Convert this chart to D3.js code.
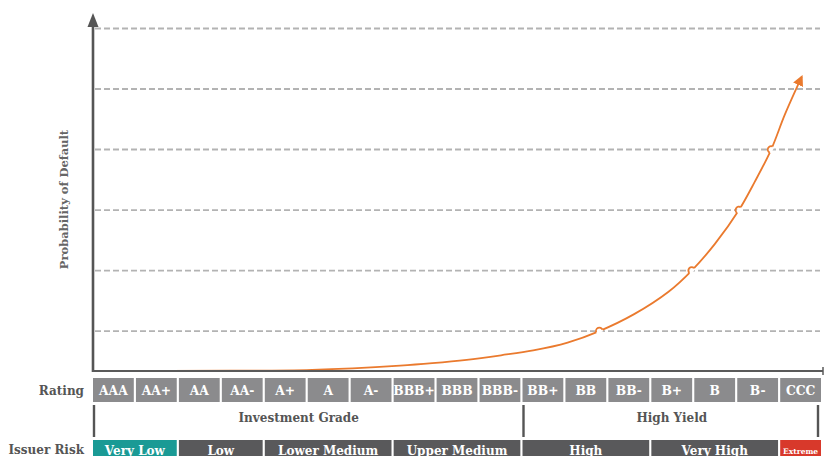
<!DOCTYPE html>
<html>
<head>
<meta charset="utf-8">
<script src="https://cdn.jsdelivr.net/npm/d3@7"></script>
<style>
  html, body { margin: 0; padding: 0; background: #fff; }
  svg { display: block; }
  text { font-family: "DejaVu Serif", serif; font-weight: bold; }
</style>
</head>
<body>
<svg id="chart" width="824" height="456"></svg>
<script>
// ---- data ----
const ratings = ["AAA","AA+","AA","AA-","A+","A","A-","BBB+","BBB","BBB-","BB+","BB","BB-","B+","B","B-","CCC"];
const gradeLabels = ["Investment Grade","High Yield"];
const gradeSpans = [10, 7];
const riskLevels = ["Very Low","Low","Lower Medium","Upper Medium","High","Very High","Extreme"];
const riskSpans = [2, 2, 3, 3, 3, 3, 1];
const gridValues = [1, 2, 3, 4, 5, 6];
// probability-of-default curve, x in rating-position units, y in grid units
const curveX = [0, 3.2, 5.1, 7.15, 7.9, 8.7, 9.5, 10.25, 11.05, 11.79, 12.6, 13.4, 13.94, 14.48, 15.04, 15.41, 15.79, 16.11, 16.5];
const curveY = [0.34, 0.345, 0.36, 0.43, 0.47, 0.525, 0.60, 0.68, 0.81, 1.0, 1.28, 1.65, 2.0, 2.44, 3.0, 3.47, 4.0, 4.58, 5.2];
const hopValues = [1, 2, 3, 4];

// ---- layout ----
const svg = d3.select("#chart");
const left = 93, right = 821;
const axisY = 371, topY = 28.5;

const x = d3.scaleBand().domain(ratings).range([left, right]).paddingInner(0.05).paddingOuter(0);
const step = x.step();
const xLin = d3.scaleLinear().domain([0, ratings.length]).range([left, left + step * ratings.length]);
const y = d3.scaleLinear().domain([0.34, 6]).range([axisY, topY]);

const defs = svg.append("defs");
defs.append("marker").attr("id", "arrowO").attr("viewBox", "0 0 10 10")
  .attr("refX", 8).attr("refY", 5).attr("markerWidth", 6).attr("markerHeight", 6)
  .attr("markerUnits", "strokeWidth").attr("orient", "auto")
  .append("path").attr("d", "M0,0 L10,5 L0,10 Z").attr("fill", "#ea7a2e");

// gridlines
svg.append("g").selectAll("line").data(gridValues).join("line")
  .attr("x1", left + 2).attr("x2", 820)
  .attr("y1", d => y(d)).attr("y2", d => y(d))
  .attr("stroke", "#b3b3b3").attr("stroke-width", 1.8)
  .attr("stroke-dasharray", "6,3");

// curve
const pts = curveX.map((d, i) => [xLin(d), y(curveY[i])]);
const line = d3.line().curve(d3.curveCatmullRom.alpha(0.5));
svg.append("path").attr("d", line(pts)).attr("fill", "none")
  .attr("stroke", "#ea7a2e").attr("stroke-width", 1.8)
  .attr("marker-end", "url(#arrowO)");

// line jumps where the curve crosses gridlines
const hopG = svg.append("g");
hopValues.forEach(v => {
  const i = curveY.indexOf(v);
  const p = pts[i], a = pts[i - 1], b = pts[i + 1];
  const dx = b[0] - a[0], dy = b[1] - a[1];
  const len = Math.hypot(dx, dy);
  const ux = dx / len, uy = dy / len;
  const r = 3.4;
  const p1 = [p[0] - ux * r, p[1] - uy * r], p2 = [p[0] + ux * r, p[1] + uy * r];
  hopG.append("line").attr("x1", p1[0]).attr("y1", p1[1]).attr("x2", p2[0]).attr("y2", p2[1])
    .attr("stroke", "#fff").attr("stroke-width", 3.5);
  hopG.append("path").attr("d", `M${p1[0]},${p1[1]} A${r},${r} 0 0 1 ${p2[0]},${p2[1]}`)
    .attr("fill", "none").attr("stroke", "#ea7a2e").attr("stroke-width", 1.8);
});

// y axis with arrow
svg.append("line").attr("x1", left).attr("x2", left).attr("y1", axisY + 1).attr("y2", 22)
  .attr("stroke", "#555").attr("stroke-width", 2.6);
svg.append("path").attr("d", `M${left - 5.5},27 L${left},13 L${left + 5.5},27 Z`).attr("fill", "#555");

// x axis
svg.append("line").attr("x1", left - 1).attr("x2", 823).attr("y1", axisY).attr("y2", axisY)
  .attr("stroke", "#5a5a5a").attr("stroke-width", 2);
svg.append("line").attr("x1", 823).attr("x2", 823).attr("y1", axisY - 4).attr("y2", axisY + 4)
  .attr("stroke", "#5a5a5a").attr("stroke-width", 1.5);

// y label
svg.append("text").attr("transform", "translate(68,199.5) rotate(-90)")
  .attr("text-anchor", "middle").attr("font-size", 11.5).attr("fill", "#666")
  .text("Probability of Default");

// rating row
const rowY = 378, rowH = 24;
svg.append("text").attr("x", 84).attr("y", 395).attr("text-anchor", "end")
  .attr("font-size", 12).attr("fill", "#555").text("Rating");
const rg = svg.append("g");
rg.selectAll("rect").data(ratings).join("rect")
  .attr("x", d => x(d)).attr("y", rowY).attr("width", x.bandwidth()).attr("height", rowH)
  .attr("fill", "#8b8b8d");
rg.selectAll("text").data(ratings).join("text")
  .attr("x", d => x(d) + x.bandwidth() / 2).attr("y", 394.5)
  .attr("text-anchor", "middle").attr("font-size", 12.3).attr("fill", "#fff").text(d => d);

// grade brackets
let start = 0;
const gg = svg.append("g");
gradeLabels.forEach((g, i) => {
  const s = start, e = start + gradeSpans[i];
  const x0 = xLin(s), x1 = xLin(e) - (step - x.bandwidth());
  gg.append("text").attr("x", (x0 + x1) / 2 - (i === 0 ? 8 : 0)).attr("y", 421.5)
    .attr("text-anchor", "middle").attr("font-size", 12).attr("fill", "#555").text(g);
  gg.append("line").attr("x1", x0 + 1).attr("x2", x0 + 1).attr("y1", 405).attr("y2", 437)
    .attr("stroke", "#555").attr("stroke-width", 2.4);
  if (i === gradeLabels.length - 1) {
    gg.append("line").attr("x1", x1 - 3).attr("x2", x1 - 3).attr("y1", 405).attr("y2", 437)
      .attr("stroke", "#555").attr("stroke-width", 2.4);
  }
  start = e;
});

// issuer risk row
svg.append("text").attr("x", 84).attr("y", 454).attr("text-anchor", "end")
  .attr("font-size", 12).attr("fill", "#555").text("Issuer Risk");
const riskColors = { "Very Low": "#1a9a95", "Extreme": "#d8392b" };
start = 0;
const rk = svg.append("g");
riskLevels.forEach((r, i) => {
  const s = start, e = start + riskSpans[i];
  const x0 = xLin(s), x1 = xLin(e) - (step - x.bandwidth());
  rk.append("rect").attr("x", x0).attr("y", 440).attr("width", x1 - x0).attr("height", 26)
    .attr("fill", riskColors[r] || "#59595b");
  rk.append("text").attr("x", (x0 + x1) / 2).attr("y", r === "Extreme" ? 453.5 : 455)
    .attr("text-anchor", "middle").attr("font-size", r === "Extreme" ? 7.5 : 12)
    .attr("fill", "#fff").text(r);
  start = e;
});
</script>
</body>
</html>
